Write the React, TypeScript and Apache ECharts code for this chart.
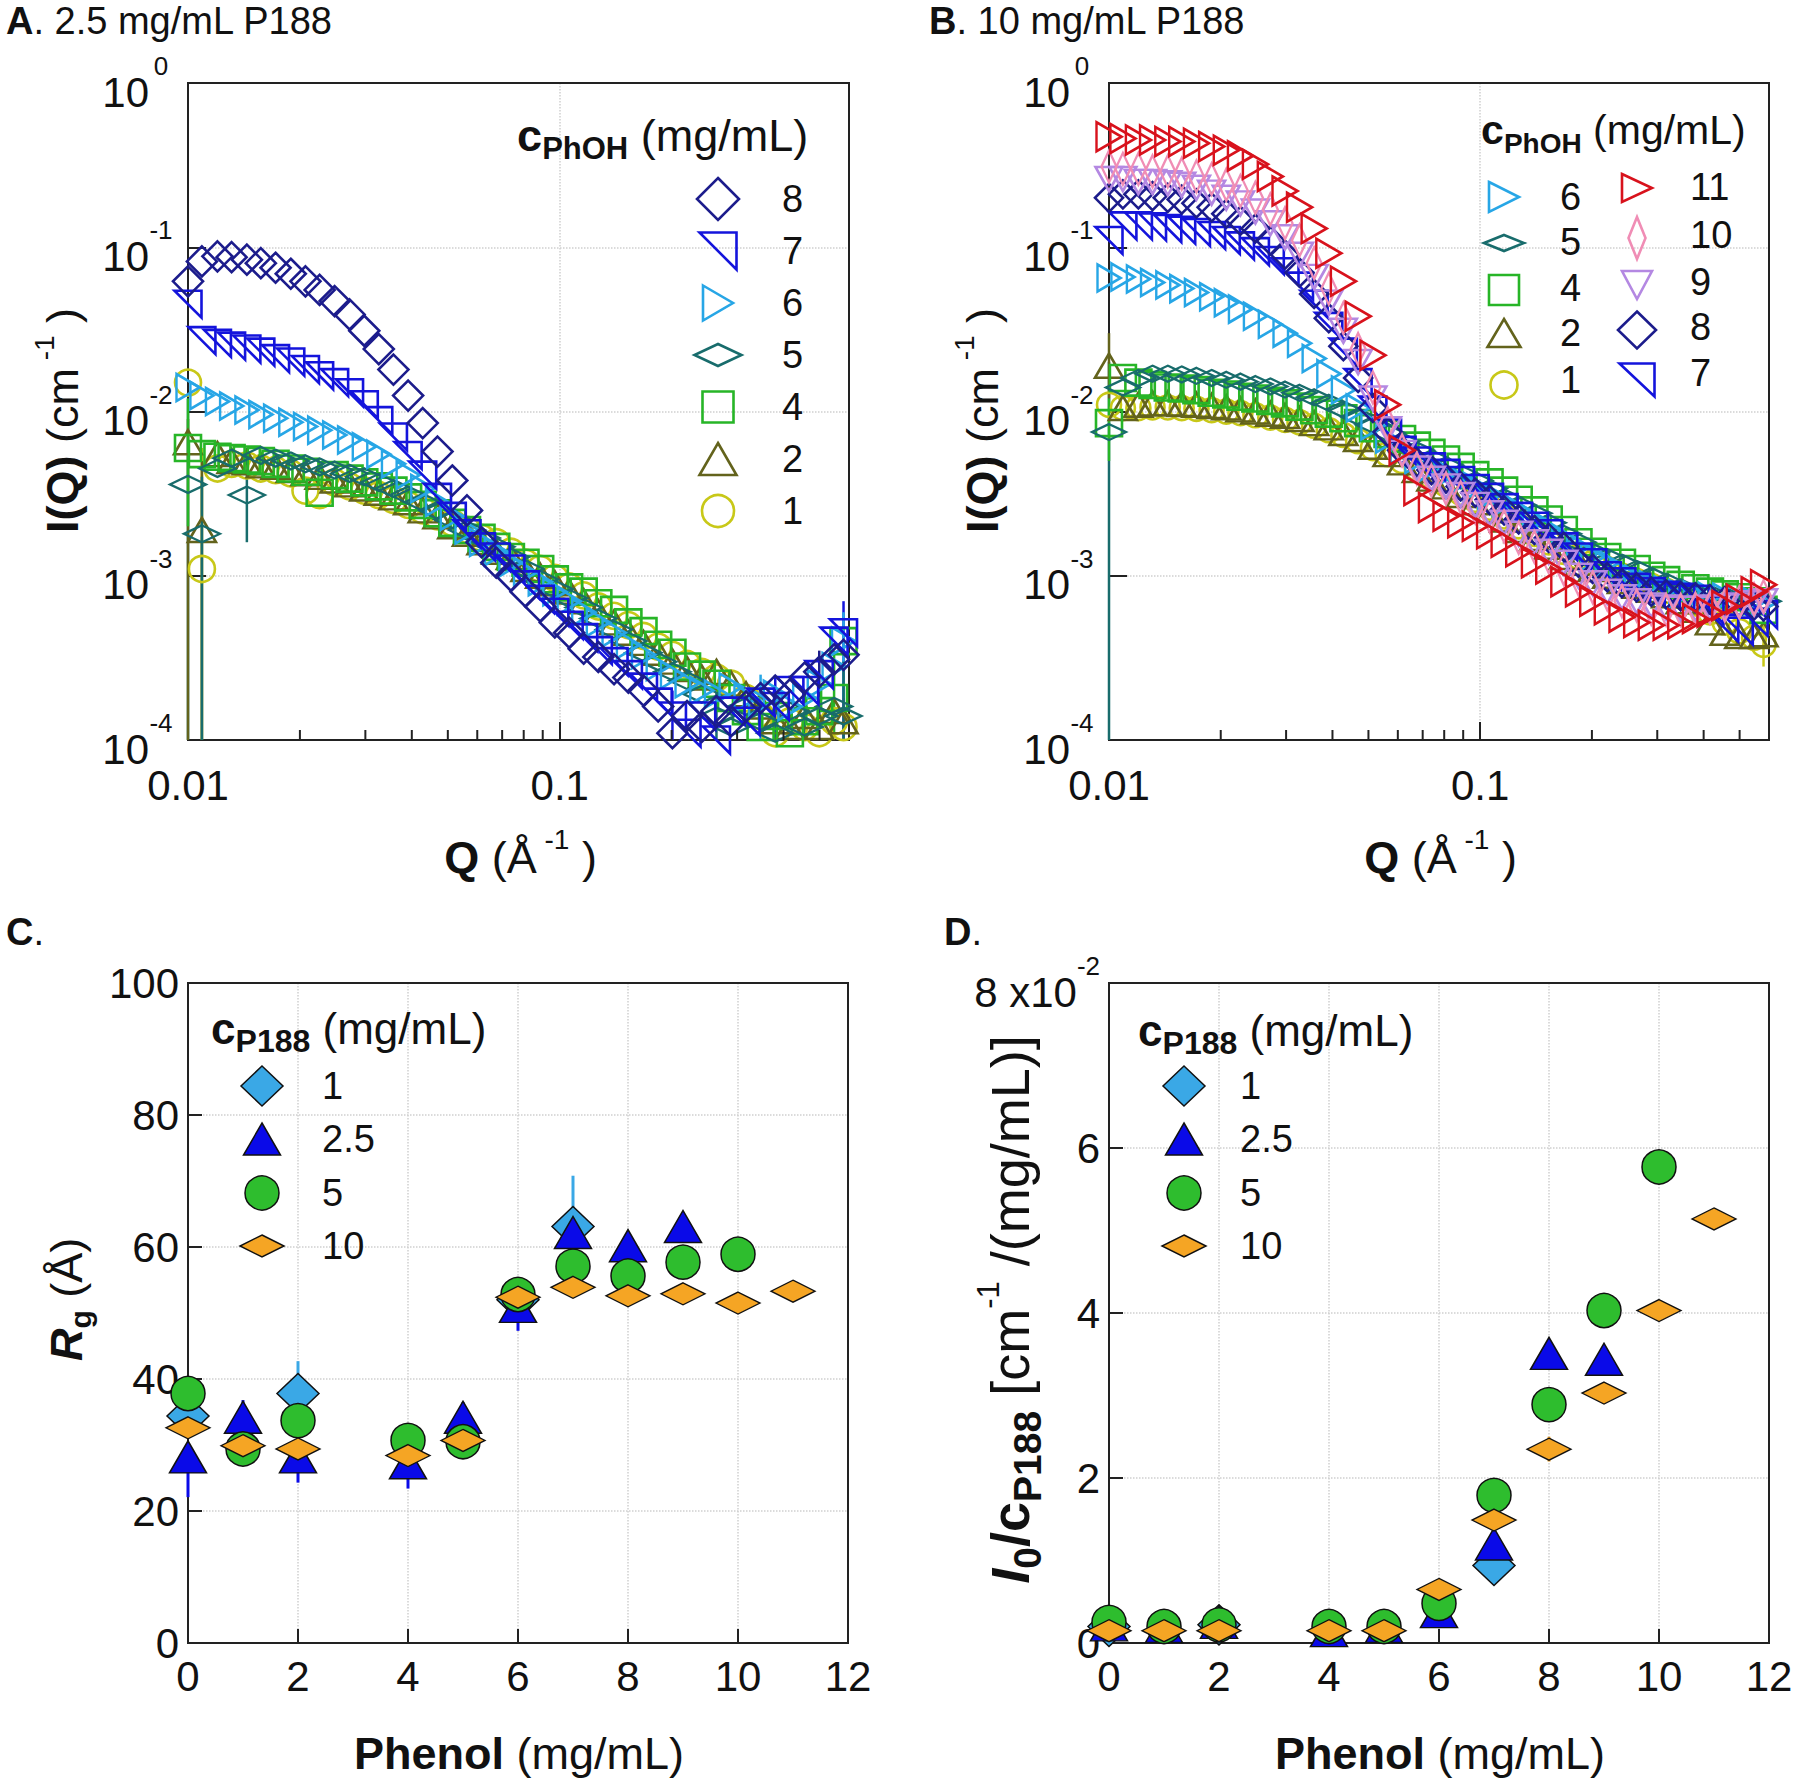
import React, { useEffect, useRef } from 'react';
import * as echarts from 'echarts';

const FONT = '"Liberation Sans", Arial, Helvetica, sans-serif';
const INK = '#111111';
const AXC = '#222222';
const GRIDC = '#cfcfcf';

// ---------------- DATA ----------------
// Shared Q grid of the SANS curves (Å^-1)
const Q = [0.0100, 0.0109, 0.0120, 0.0131, 0.0144, 0.0157, 0.0172, 0.0189, 0.0207, 0.0226,
  0.0248, 0.0272, 0.0298, 0.0326, 0.0357, 0.0391, 0.0428, 0.0469, 0.0514, 0.0563,
  0.0616, 0.0675, 0.0739, 0.0809, 0.0886, 0.0970, 0.106, 0.116, 0.127, 0.140,
  0.153, 0.168, 0.184, 0.201, 0.220, 0.241, 0.264, 0.289, 0.317, 0.347,
  0.380, 0.416, 0.456, 0.499, 0.547, 0.580];
const MINOR_Q = [0.02, 0.03, 0.04, 0.05, 0.06, 0.07, 0.08, 0.09, 0.2, 0.3, 0.4, 0.5];

// Panel A: 2.5 mg/mL P188, I(Q) per phenol concentration
const A_I8 = [0.062, 0.082, 0.088, 0.087, 0.084, 0.080, 0.075, 0.069, 0.062, 0.055,
  0.047, 0.039, 0.031, 0.024, 0.018, 0.0125, 0.0085, 0.0057, 0.0038, 0.0025,
  0.0016, 0.0012, 0.001, 0.0008, 0.00065, 0.00052, 0.00045, 0.00036, 0.00032, 0.00027,
  0.00024, 0.0002, 0.00016, 0.00011, 0.00014, 0.00012, 0.00015, 0.00013, 0.00016, 0.00018,
  0.0002, 0.00019, 0.00024, 0.00026, 0.00031, 0.00033];
const A_I7 = [0.045, 0.027, 0.026, 0.025, 0.024, 0.023, 0.021, 0.020, 0.018, 0.0165,
  0.015, 0.013, 0.011, 0.0088, 0.007, 0.0054, 0.0041, 0.003, 0.0023, 0.0018,
  0.0015, 0.0013, 0.0011, 0.00088, 0.00072, 0.0006, 0.0005, 0.00042, 0.00035, 0.0003,
  0.00025, 0.00021, 0.00017, 0.00014, 0.00011, 0.00014, 0.0001, 0.00015, 0.00013, 0.00017,
  0.00016, 0.0002, 0.0002, 0.00025, 0.0004, 0.00045];
const A_I6 = [0.014, 0.0125, 0.0115, 0.0108, 0.0102, 0.0096, 0.0091, 0.0086, 0.0081, 0.0077,
  0.0072, 0.0067, 0.0061, 0.0055, 0.0048, 0.0041, 0.0034, 0.0028, 0.0023, 0.0019,
  0.0016, 0.0014, 0.0012, 0.00105, 0.00092, 0.0008, 0.0007, 0.0006, 0.00052, 0.00045,
  0.00038, 0.00033, 0.00028, 0.00025, 0.00022, 0.0002, 0.00019, 0.00021, 0.00018, 0.00017,
  0.00019, 0.00016, 0.00018, 0.00022, 0.00028, 0.0004];
const A_I5 = [0.0036, 0.0018, 0.0045, 0.0052, 0.0031, 0.0054, 0.0052, 0.005, 0.0048, 0.0046,
  0.0044, 0.0042, 0.004, 0.0037, 0.0034, 0.0031, 0.0028, 0.0025, 0.0022, 0.0019,
  0.0017, 0.0015, 0.0013, 0.0011, 0.00095, 0.00083, 0.00073, 0.00064, 0.00055, 0.00047,
  0.0004, 0.00034, 0.0003, 0.00026, 0.00023, 0.00019, 0.00014, 0.00012, 0.00016, 0.00013,
  0.00011, 0.00015, 0.00012, 0.00014, 0.00016, 0.00014];
const A_I4 = [0.006, 0.0055, 0.0053, 0.0052, 0.0051, 0.005, 0.0048, 0.0045, 0.0043, 0.0032,
  0.0041, 0.0039, 0.0037, 0.0035, 0.0033, 0.003, 0.0027, 0.0024, 0.0021, 0.0019,
  0.0017, 0.0015, 0.0013, 0.0012, 0.0011, 0.00095, 0.00085, 0.0008, 0.00068, 0.00062,
  0.00052, 0.00046, 0.00038, 0.00034, 0.00028, 0.00025, 0.00022, 0.00018, 0.00015, 0.00012,
  0.00014, 0.00011, 0.00013, 0.00015, 0.00018, 0.0004];
const A_I2 = [0.0065, 0.0019, 0.0055, 0.005, 0.0049, 0.0047, 0.0046, 0.0044, 0.0042, 0.004,
  0.0038, 0.0036, 0.0034, 0.0032, 0.003, 0.0028, 0.0025, 0.0023, 0.002, 0.0018,
  0.0016, 0.0014, 0.0013, 0.0011, 0.001, 0.0009, 0.0008, 0.0007, 0.0006, 0.00052,
  0.00045, 0.00039, 0.00034, 0.0003, 0.00027, 0.00024, 0.00026, 0.00022, 0.00019, 0.00016,
  0.00013, 0.00012, 0.00014, 0.00012, 0.00015, 0.00013];
const A_I1 = [0.015, 0.0011, 0.0045, 0.0048, 0.0047, 0.0045, 0.0044, 0.0042, 0.0033, 0.0031,
  0.0037, 0.0035, 0.0033, 0.0031, 0.0029, 0.0027, 0.0025, 0.0023, 0.0021, 0.0019,
  0.0017, 0.0016, 0.0014, 0.0012, 0.0011, 0.00097, 0.00086, 0.00076, 0.00065, 0.00057,
  0.0005, 0.00043, 0.00037, 0.00033, 0.00029, 0.00026, 0.00024, 0.00022, 0.00018, 0.00014,
  0.00011, 0.00013, 0.00012, 0.00011, 0.00013, 0.00012];

// Panel B: 10 mg/mL P188
const B_I11 = [0.47, 0.46, 0.45, 0.45, 0.44, 0.44, 0.43, 0.41, 0.39, 0.36,
  0.32, 0.27, 0.22, 0.175, 0.13, 0.092, 0.062, 0.038, 0.022, 0.011,
  0.0058, 0.0033, 0.0026, 0.0023, 0.0021, 0.002, 0.0018, 0.0016, 0.0014, 0.0012,
  0.0011, 0.00092, 0.0008, 0.0007, 0.00062, 0.00056, 0.00052, 0.0005, 0.0005, 0.00051,
  0.00055, 0.0006, 0.00066, 0.00072, 0.0008, 0.00088];
const B_I10 = [0.31, 0.30, 0.30, 0.29, 0.29, 0.28, 0.27, 0.26, 0.24, 0.22,
  0.2, 0.17, 0.14, 0.11, 0.08, 0.056, 0.037, 0.024, 0.014, 0.0085,
  0.0058, 0.0045, 0.0038, 0.0034, 0.003, 0.0026, 0.0023, 0.002, 0.0017, 0.0015,
  0.0013, 0.0011, 0.00095, 0.00085, 0.00077, 0.0007, 0.00066, 0.00063, 0.00062, 0.00062,
  0.00063, 0.00064, 0.00066, 0.00069, 0.00072, 0.00075];
const B_I9 = [0.26, 0.26, 0.25, 0.25, 0.245, 0.24, 0.23, 0.215, 0.2, 0.185,
  0.165, 0.14, 0.115, 0.09, 0.066, 0.046, 0.031, 0.02, 0.012, 0.0078,
  0.0056, 0.0045, 0.0039, 0.0035, 0.0031, 0.0027, 0.0024, 0.0021, 0.0018, 0.0016,
  0.0014, 0.0012, 0.001, 0.0009, 0.0008, 0.00074, 0.0007, 0.00066, 0.00064, 0.00063,
  0.00063, 0.00064, 0.00065, 0.00066, 0.00068, 0.0007];
const B_I8 = [0.2, 0.21, 0.21, 0.205, 0.2, 0.195, 0.185, 0.175, 0.16, 0.145,
  0.13, 0.11, 0.09, 0.07, 0.052, 0.037, 0.025, 0.016, 0.0105, 0.0075,
  0.0058, 0.0049, 0.0044, 0.0039, 0.0035, 0.0032, 0.0029, 0.0025, 0.0022, 0.0019,
  0.0017, 0.0015, 0.0012, 0.0011, 0.00098, 0.0009, 0.00085, 0.0008, 0.00077, 0.00075,
  0.00074, 0.00072, 0.0007, 0.00068, 0.00066, 0.00065];
const B_I7 = [0.11, 0.135, 0.135, 0.133, 0.13, 0.127, 0.123, 0.118, 0.11, 0.102,
  0.094, 0.083, 0.071, 0.058, 0.045, 0.033, 0.023, 0.015, 0.0102, 0.0074,
  0.0058, 0.005, 0.0046, 0.0042, 0.0038, 0.0034, 0.003, 0.0026, 0.0023, 0.002,
  0.0018, 0.0015, 0.0013, 0.0012, 0.001, 0.00092, 0.00085, 0.0008, 0.00076, 0.00074,
  0.00072, 0.00062, 0.00048, 0.00046, 0.00052, 0.00058];
const B_I6 = [0.065, 0.066, 0.064, 0.061, 0.059, 0.056, 0.053, 0.05, 0.046, 0.042,
  0.038, 0.034, 0.03, 0.026, 0.021, 0.017, 0.0135, 0.0105, 0.0082, 0.0068,
  0.0058, 0.0051, 0.0046, 0.0042, 0.0038, 0.0035, 0.0031, 0.0028, 0.0025, 0.0022,
  0.0019, 0.0017, 0.0015, 0.0013, 0.0012, 0.00105, 0.00095, 0.00088, 0.00082, 0.00078,
  0.00076, 0.00075, 0.00074, 0.00072, 0.0007, 0.00068];
const B_I5 = [0.0075, 0.014, 0.016, 0.017, 0.017, 0.0168, 0.0165, 0.016, 0.0156, 0.0152,
  0.0147, 0.0142, 0.0136, 0.013, 0.0122, 0.0113, 0.0103, 0.0093, 0.0083, 0.0074,
  0.0066, 0.0058, 0.0052, 0.0047, 0.0042, 0.0038, 0.0034, 0.003, 0.0027, 0.0024,
  0.0021, 0.0018, 0.0016, 0.0014, 0.0013, 0.0012, 0.0011, 0.001, 0.00092, 0.00085,
  0.0008, 0.00078, 0.00076, 0.00074, 0.00072, 0.0007];
const B_I4 = [0.0085, 0.016, 0.015, 0.0145, 0.014, 0.0138, 0.0135, 0.013, 0.0127, 0.0123,
  0.012, 0.0116, 0.0112, 0.0107, 0.0102, 0.0097, 0.0091, 0.0085, 0.0079, 0.0073,
  0.0068, 0.0062, 0.0056, 0.0051, 0.0046, 0.0041, 0.0037, 0.0033, 0.0029, 0.0025,
  0.0022, 0.0019, 0.0016, 0.0014, 0.0013, 0.0012, 0.0011, 0.001, 0.00094, 0.00088,
  0.00084, 0.0008, 0.00077, 0.00074, 0.0007, 0.00062];
const B_I2 = [0.019, 0.0105, 0.011, 0.0112, 0.0112, 0.0111, 0.011, 0.0108, 0.0106, 0.0103,
  0.01, 0.0097, 0.0094, 0.009, 0.0085, 0.008, 0.0074, 0.0068, 0.0061, 0.0055,
  0.0049, 0.0044, 0.0039, 0.0035, 0.0031, 0.0028, 0.0025, 0.0022, 0.0019, 0.0017,
  0.0015, 0.0013, 0.0012, 0.0011, 0.001, 0.00093, 0.00087, 0.00082, 0.00076, 0.0007,
  0.00062, 0.00052, 0.00045, 0.00043, 0.00043, 0.00044];
const B_I1 = [0.011, 0.0105, 0.0105, 0.0106, 0.0106, 0.0105, 0.0104, 0.0102, 0.01, 0.0098,
  0.0095, 0.0092, 0.0089, 0.0086, 0.0082, 0.0077, 0.0072, 0.0066, 0.006, 0.0055,
  0.005, 0.0045, 0.004, 0.0036, 0.0032, 0.0029, 0.0026, 0.0023, 0.002, 0.0018,
  0.0016, 0.0014, 0.0013, 0.0012, 0.0011, 0.001, 0.00093, 0.00087, 0.00081, 0.00075,
  0.00068, 0.0006, 0.00052, 0.00046, 0.00042, 0.00038];

// Error bars [series, Q, low, high]
const A_ERR = [
  ['5', 0.0100, 0.0001, 0.012], ['2', 0.0100, 0.0001, 0.009], ['4', 0.0100, 0.002, 0.012],
  ['1', 0.0109, 0.0001, 0.006], ['2', 0.0109, 0.0001, 0.005], ['5', 0.0109, 0.0001, 0.004],
  ['5', 0.0144, 0.0016, 0.006], ['7', 0.201, 0.0001, 0.0002], ['5', 0.264, 0.0001, 0.00022],
  ['6', 0.347, 0.0001, 0.00025], ['7', 0.380, 0.0001, 0.00024], ['5', 0.456, 0.0001, 0.0002],
  ['8', 0.499, 0.00012, 0.00035], ['4', 0.547, 0.00011, 0.00035], ['7', 0.580, 0.0001, 0.0007],
  ['6', 0.580, 0.00018, 0.0006], ['5', 0.580, 0.0001, 0.0003],
];
const B_ERR = [
  ['5', 0.0100, 0.0001, 0.02], ['2', 0.0100, 0.012, 0.03], ['4', 0.0100, 0.005, 0.012],
  ['1', 0.580, 0.00028, 0.0005],
];

// Panel C: Rg (Å) vs phenol (mg/mL)
const C_X1 = [0, 2, 6, 7];
const C_Y1 = [34.4, 37.8, 52, 63.1];
const C_X25 = [0, 1, 2, 4, 5, 6, 7, 8, 9];
const C_Y25 = [28.2, 34.2, 28.2, 27.3, 34.2, 51, 62.2, 60.2, 63.1];
const C_X5 = [0, 1, 2, 4, 5, 6, 7, 8, 9, 10];
const C_Y5 = [37.8, 29.4, 33.7, 30.7, 30.5, 52.8, 57.1, 55.6, 57.7, 58.9];
const C_X10 = [0, 1, 2, 4, 5, 6, 7, 8, 9, 10, 11];
const C_Y10 = [32.6, 29.9, 29.4, 28.4, 30.7, 52.4, 53.9, 52.6, 52.9, 51.5, 53.3];
const C_ERR = [
  ['1', 2, 37.8, 42.7], ['1', 7, 63.1, 70.8],
  ['2.5', 0, 22.1, 28.2], ['2.5', 1, 34.2, 36.8], ['2.5', 2, 24.3, 28.2], ['2.5', 4, 23.4, 27.3],
  ['2.5', 5, 34.2, 36.5], ['2.5', 6, 47.3, 55], ['2.5', 7, 59, 62.2],
];

// Panel D: I0/cP188 (x10^-2 cm^-1/(mg/mL)) vs phenol (mg/mL)
const D_X1 = [0, 2, 7];
const D_Y1 = [0.2, 0.22, 0.94];
const D_X25 = [0, 1, 2, 4, 5, 6, 7, 8, 9];
const D_Y25 = [0.22, 0.2, 0.25, 0.15, 0.2, 0.38, 1.2, 3.51, 3.44];
const D_X5 = [0, 1, 2, 4, 5, 6, 7, 8, 9, 10];
const D_Y5 = [0.25, 0.2, 0.22, 0.2, 0.2, 0.48, 1.79, 2.89, 4.03, 5.77];
const D_X10 = [0, 1, 2, 4, 5, 6, 7, 8, 9, 10, 11];
const D_Y10 = [0.15, 0.15, 0.15, 0.15, 0.15, 0.65, 1.49, 2.35, 3.03, 4.03, 5.14];
const D_ERR = [['1', 7, 0.75, 0.94], ['10', 8, 2.2, 2.5]];

// ---------------- STYLES ----------------
const SAS_STYLE: any = {
  '1': { color: '#c8c818', kind: 'circle' },
  '2': { color: '#63631c', kind: 'tri' },
  '4': { color: '#27b527', kind: 'rect' },
  '5': { color: '#186c6c', kind: 'diamond' },
  '6': { color: '#27a6e6', kind: 'right' },
  '7': { color: '#1414dc', kind: 'corner' },
  '8': { color: '#1c1c8c', kind: 'diamond' },
  '9': { color: '#b488e2', kind: 'down' },
  '10': { color: '#f08db5', kind: 'diamond' },
  '11': { color: '#d8121c', kind: 'right' },
};
const A_SIZE: any = { '1': [26, 26], '2': [28, 24], '4': [26, 26], '5': [36, 17], '6': [23, 27], '7': [27, 27], '8': [30, 30] };
const B_SIZE: any = { '1': [24, 24], '2': [28, 24], '4': [26, 26], '5': [34, 16], '6': [23, 27], '7': [27, 27], '8': [28, 28], '9': [27, 24], '10': [15, 32], '11': [25, 29] };
const CD_STYLE: any = {
  '1': { color: '#3aa8e6', kind: 'diamond', size: [42, 40] },
  '2.5': { color: '#0a0ae8', kind: 'tri', size: [37, 32] },
  '5': { color: '#2ebd2e', kind: 'circle', size: [34, 34] },
  '10': { color: '#f5a524', kind: 'diamond', size: [44, 22] },
};
const SYMBOL: any = {
  circle: 'circle', tri: 'triangle', rect: 'rect', diamond: 'diamond',
  right: 'path://M0 0L10 5L0 10Z', down: 'path://M0 0L10 0L5 10Z', corner: 'path://M0 0L10 0L10 10Z',
};

const GRIDS = [
  { left: 188, top: 83, width: 661, height: 657 },
  { left: 1109, top: 83, width: 660, height: 657 },
  { left: 188, top: 983, width: 660, height: 660 },
  { left: 1109, top: 983, width: 660, height: 660 },
];

function baseAxis(gridIndex: number) {
  return {
    gridIndex,
    axisLine: { show: true, onZero: false, lineStyle: { color: AXC, width: 2 } },
    axisTick: { show: true, inside: true, length: 18, lineStyle: { color: AXC, width: 2 } },
    splitLine: { show: true, lineStyle: { color: GRIDC, type: 'dotted', width: 1.5 } },
  };
}
// plain frame axes (top / right edges of each box)
function frameAxis(gridIndex: number, kind: string, position: string) {
  const base: any = {
    gridIndex, position,
    axisLine: { show: true, onZero: false, lineStyle: { color: AXC, width: 2 } },
    axisTick: { show: false }, axisLabel: { show: false }, splitLine: { show: false },
  };
  if (kind === 'logx') return { ...base, type: 'log', logBase: 10, min: 0.01, max: 0.6 };
  if (kind === 'logy') return { ...base, type: 'log', logBase: 10, min: 1e-4, max: 1 };
  if (kind === 'linx') return { ...base, type: 'value', min: 0, max: 12 };
  if (kind === 'c') return { ...base, type: 'value', min: 0, max: 100 };
  return { ...base, type: 'value', min: 0, max: 8 };
}

const LOG_RICH = {
  sp: { fontSize: 4, lineHeight: 60 },
  b: { fontSize: 42, fontFamily: FONT, color: INK, verticalAlign: 'bottom' },
  s: { fontSize: 26, fontFamily: FONT, color: INK, verticalAlign: 'top', width: 24, align: 'left' },
};

function logX(gridIndex: number) {
  return {
    ...baseAxis(gridIndex), type: 'log', logBase: 10, min: 0.01, max: 0.6,
    axisLabel: {
      fontSize: 42, fontFamily: FONT, color: INK, margin: 24,
      formatter: (v: number) => {
        const e = Math.log10(v); const r = Math.round(e);
        if (Math.abs(e - r) > 1e-6) return '';
        return String(Number(Math.pow(10, r).toFixed(4)));
      },
    },
  };
}
function logY(gridIndex: number) {
  return {
    ...baseAxis(gridIndex), type: 'log', logBase: 10, min: 1e-4, max: 1,
    axisLabel: {
      fontSize: 42, fontFamily: FONT, color: INK, margin: 15, rich: LOG_RICH,
      formatter: (v: number) => {
        const e = Math.log10(v); const r = Math.round(e);
        if (Math.abs(e - r) > 1e-6) return '';
        return `{sp| }{b|10}{s|${r}}`;
      },
    },
  };
}
function linX(gridIndex: number) {
  return {
    ...baseAxis(gridIndex), type: 'value', min: 0, max: 12, interval: 2,
    axisTick: { show: true, inside: true, length: 14, lineStyle: { color: AXC, width: 2 } },
    axisLabel: { fontSize: 42, fontFamily: FONT, color: INK, margin: 12 },
  };
}
function linY(gridIndex: number, max: number, interval: number, fmt?: any) {
  return {
    ...baseAxis(gridIndex), type: 'value', min: 0, max, interval,
    axisTick: { show: true, inside: true, length: 14, lineStyle: { color: AXC, width: 2 } },
    axisLabel: {
      fontSize: 42, fontFamily: FONT, color: INK, margin: 9,
      rich: {
        sp: { fontSize: 4, lineHeight: 60 },
        b: { fontSize: 42, fontFamily: FONT, color: INK, verticalAlign: 'bottom' },
        s: { fontSize: 26, fontFamily: FONT, color: INK, verticalAlign: 'top' },
      },
      formatter: fmt,
    },
  };
}

function sasSeries(prefix: string, idx: number, key: string, values: number[], size: number[]) {
  const st = SAS_STYLE[key];
  return {
    type: 'scatter', name: `${prefix} ${key}`, xAxisIndex: idx, yAxisIndex: idx,
    data: Q.map((q, i) => [q, values[i]]),
    symbol: SYMBOL[st.kind], symbolSize: size,
    itemStyle: { color: 'rgba(255,255,255,0)', borderColor: st.color, borderWidth: 2.6, opacity: 1 },
    silent: true, z: 3,
  };
}
function cdSeries(prefix: string, idx: number, key: string, xs: number[], ys: number[]) {
  const st = CD_STYLE[key];
  return {
    type: 'scatter', name: `${prefix} ${key}`, xAxisIndex: idx, yAxisIndex: idx,
    data: xs.map((x, i) => [x, ys[i]]),
    symbol: SYMBOL[st.kind], symbolSize: st.size,
    itemStyle: { color: st.color, borderColor: '#111', borderWidth: 1.5, opacity: 1 },
    silent: true, z: 3,
  };
}
function errSeries(idx: number, errs: any[], colorOf: (k: string) => string, lw: number) {
  const keys = errs.map((e) => e[0]);
  return {
    type: 'custom', xAxisIndex: idx, yAxisIndex: idx, silent: true, z: 2,
    data: errs.map((e, i) => [e[1], e[2], e[3], i]),
    renderItem: (params: any, api: any) => {
      const x = api.value(0);
      const lo = api.coord([x, api.value(1)]);
      const hi = api.coord([x, api.value(2)]);
      const c = colorOf(keys[api.value(3)]);
      return { type: 'line', shape: { x1: lo[0], y1: lo[1], x2: hi[0], y2: hi[1] }, style: { stroke: c, lineWidth: lw } };
    },
  };
}
function minorTicks(idx: number) {
  return {
    type: 'custom', xAxisIndex: idx, yAxisIndex: idx, silent: true, z: 4,
    data: MINOR_Q.map((q) => [q, 1e-4]),
    renderItem: (params: any, api: any) => {
      const p = api.coord([api.value(0), 1e-4]);
      return { type: 'line', shape: { x1: p[0], y1: p[1], x2: p[0], y2: p[1] - 10 }, style: { stroke: AXC, lineWidth: 2 } };
    },
  };
}

// ---------------- GRAPHIC (titles, legends) ----------------
function rich(L: number, base: number, sub: number, sup: number) {
  const t = (o: any) => ({ fontFamily: FONT, fill: INK, ...o });
  return {
    sp: { fontSize: 4, lineHeight: L, fontFamily: FONT, fill: INK },
    n: t({ fontSize: base, verticalAlign: 'middle' }),
    b: t({ fontSize: base, fontWeight: 'bold', verticalAlign: 'middle' }),
    bi: t({ fontSize: base, fontWeight: 'bold', fontStyle: 'italic', verticalAlign: 'middle' }),
    sub: t({ fontSize: sub, fontWeight: 'bold', verticalAlign: 'bottom' }),
    sup: t({ fontSize: sup, verticalAlign: 'top' }),
  };
}
function txt(x: number, y: number, text: string, r: any, align = 'left', rot = 0, fs = 42) {
  return {
    type: 'text', x, y, rotation: rot, z: 100, silent: true,
    style: { text, rich: r, fontFamily: FONT, fontSize: fs, fill: INK, align, verticalAlign: 'middle' },
  };
}
function shape(kind: string, cx: number, cy: number, w: number, h: number, style: any) {
  const l = cx - w / 2, r = cx + w / 2, t = cy - h / 2, b = cy + h / 2;
  const common = { z: 100, silent: true, style };
  if (kind === 'circle') return { type: 'circle', shape: { cx, cy, r: w / 2 }, ...common };
  if (kind === 'rect') return { type: 'rect', shape: { x: l, y: t, width: w, height: h }, ...common };
  let pts;
  if (kind === 'diamond') pts = [[cx, t], [r, cy], [cx, b], [l, cy]];
  else if (kind === 'tri') pts = [[cx, t], [r, b], [l, b]];
  else if (kind === 'right') pts = [[l, t], [r, cy], [l, b]];
  else if (kind === 'down') pts = [[l, t], [r, t], [cx, b]];
  else pts = [[l, t], [r, t], [r, b]];
  return { type: 'polygon', shape: { points: pts }, ...common };
}

function buildGraphic() {
  const g: any[] = [];
  const R38 = rich(46, 38, 26, 22);
  const R45 = rich(64, 45, 30, 28);
  const R45s = rich(58, 45, 30, 28);
  // panel labels
  g.push(txt(6, 21, '{b|A}{n|. 2.5 mg/mL P188}', R38));
  g.push(txt(929, 21, '{b|B}{n|. 10 mg/mL P188}', R38));
  g.push(txt(6, 932, '{b|C}{n|.}', R38));
  g.push(txt(944, 932, '{b|D}{n|.}', R38));
  // axis titles
  g.push(txt(520, 857, '{sp| }{b|Q}{n| (Å}{sup| -1}{n| )}', R45, 'center'));
  g.push(txt(1440, 857, '{sp| }{b|Q}{n| (Å}{sup| -1}{n| )}', R45, 'center'));
  g.push(txt(519, 1753, '{b|Phenol}{n| (mg/mL)}', R45, 'center'));
  g.push(txt(1440, 1753, '{b|Phenol}{n| (mg/mL)}', R45, 'center'));
  g.push(txt(62, 421, '{sp| }{b|I(Q)}{n| (cm}{sup| -1}{n| )}', R45, 'center', Math.PI / 2));
  g.push(txt(982, 421, '{sp| }{b|I(Q)}{n| (cm}{sup| -1}{n| )}', R45, 'center', Math.PI / 2));
  g.push(txt(66, 1300, '{sp| }{bi|R}{sub|g}{n| (Å)}', R45s, 'center', Math.PI / 2));
  g.push(txt(1010, 1310, '{sp| }{bi|I}{sub|0}{b|/c}{sub|P188}{n| [cm}{sup|-1}{n| /(mg/mL)]}', rich(74, 54, 39, 31), 'center', Math.PI / 2));

  // legend titles
  g.push(txt(516, 135, '{sp| }{b|c}{sub|PhOH}{n| (mg/mL)}', rich(58, 45, 31, 26)));
  g.push(txt(1480, 130, '{sp| }{b|c}{sub|PhOH}{n| (mg/mL)}', rich(54, 41, 28, 24)));
  g.push(txt(210, 1028, '{sp| }{b|c}{sub|P188}{n| (mg/mL)}', rich(58, 44, 32, 26)));
  g.push(txt(1137, 1030, '{sp| }{b|c}{sub|P188}{n| (mg/mL)}', rich(58, 44, 32, 26)));

  const open = (k: string) => ({ fill: 'none', stroke: SAS_STYLE[k].color, lineWidth: 2.6 });
  // legend A
  const aKeys = ['8', '7', '6', '5', '4', '2', '1'];
  const aRows = [199, 251, 303, 355, 407, 459, 511];
  const aSz: any = { '8': [42, 42], '7': [37, 37], '6': [30, 35], '5': [47, 22], '4': [31, 31], '2': [37, 32], '1': [32, 32] };
  aKeys.forEach((k, i) => {
    g.push(shape(SAS_STYLE[k].kind, 718, aRows[i], aSz[k][0], aSz[k][1], open(k)));
    g.push(txt(782, aRows[i], k, {}, 'left', 0, 38));
  });
  // legend B (two columns)
  const bSz: any = { '6': [30, 30], '5': [40, 16], '4': [30, 30], '2': [33, 28], '1': [27, 27], '11': [30, 28], '10': [17, 42], '9': [30, 28], '8': [38, 37], '7': [35, 33] };
  const bCol1 = ['6', '5', '4', '2', '1'];
  const b1Sym = [197, 243, 290, 333, 385];
  const b1Lab = [197, 242, 288, 333, 380];
  const bCol2 = ['11', '10', '9', '8', '7'];
  const b2Sym = [188, 238, 285, 330, 380];
  const b2Lab = [187, 235, 282, 327, 373];
  bCol1.forEach((k, i) => {
    g.push(shape(SAS_STYLE[k].kind, 1504, b1Sym[i], bSz[k][0], bSz[k][1], open(k)));
    g.push(txt(1560, b1Lab[i], k, {}, 'left', 0, 38));
  });
  bCol2.forEach((k, i) => {
    g.push(shape(SAS_STYLE[k].kind, 1637, b2Sym[i], bSz[k][0], bSz[k][1], open(k)));
    g.push(txt(1690, b2Lab[i], k, {}, 'left', 0, 38));
  });
  // legends C and D
  const cdKeys = ['1', '2.5', '5', '10'];
  const cdRows = [1086, 1139, 1193, 1246];
  const filled = (k: string) => ({ fill: CD_STYLE[k].color, stroke: '#111', lineWidth: 1.5 });
  [[262, 322], [1184, 1240]].forEach(([sx, lx]) => {
    cdKeys.forEach((k, i) => {
      const st = CD_STYLE[k];
      g.push(shape(st.kind, sx, cdRows[i], st.size[0], st.size[1], filled(k)));
      g.push(txt(lx, cdRows[i], k, {}, 'left', 0, 38));
    });
  });
  return g;
}

function buildOption() {
  const aList: [string, number[]][] = [['1', A_I1], ['2', A_I2], ['4', A_I4], ['5', A_I5], ['6', A_I6], ['7', A_I7], ['8', A_I8]];
  const bList: [string, number[]][] = [['1', B_I1], ['2', B_I2], ['4', B_I4], ['5', B_I5], ['6', B_I6], ['7', B_I7], ['8', B_I8], ['9', B_I9], ['10', B_I10], ['11', B_I11]];
  const sasColor = (k: string) => SAS_STYLE[k].color;
  const cdColor = (k: string) => CD_STYLE[k].color;
  const series: any[] = [
    errSeries(0, A_ERR, sasColor, 2.5),
    ...aList.map(([k, v]) => sasSeries('A', 0, k, v, A_SIZE[k])),
    minorTicks(0),
    errSeries(1, B_ERR, sasColor, 2.5),
    ...bList.map(([k, v]) => sasSeries('B', 1, k, v, B_SIZE[k])),
    minorTicks(1),
    errSeries(2, C_ERR, cdColor, 3),
    cdSeries('C', 2, '1', C_X1, C_Y1),
    cdSeries('C', 2, '2.5', C_X25, C_Y25),
    cdSeries('C', 2, '5', C_X5, C_Y5),
    cdSeries('C', 2, '10', C_X10, C_Y10),
    errSeries(3, D_ERR, cdColor, 3),
    cdSeries('D', 3, '1', D_X1, D_Y1),
    cdSeries('D', 3, '2.5', D_X25, D_Y25),
    cdSeries('D', 3, '5', D_X5, D_Y5),
    cdSeries('D', 3, '10', D_X10, D_Y10),
  ];
  return {
    animation: false,
    backgroundColor: '#ffffff',
    textStyle: { fontFamily: FONT },
    grid: GRIDS.map((g) => ({ ...g, show: true, borderColor: AXC, borderWidth: 2, backgroundColor: 'transparent', containLabel: false, outerBoundsMode: 'none' })),
    xAxis: [
      logX(0), logX(1), linX(2), linX(3),
      frameAxis(0, 'logx', 'top'), frameAxis(1, 'logx', 'top'), frameAxis(2, 'linx', 'top'), frameAxis(3, 'linx', 'top'),
    ],
    yAxis: [
      logY(0), logY(1),
      linY(2, 100, 20),
      linY(3, 8, 2, (v: number) => (v === 8 ? '{sp| }{b|8 x10}{s|-2}' : String(v))),
      frameAxis(0, 'logy', 'right'), frameAxis(1, 'logy', 'right'), frameAxis(2, 'c', 'right'), frameAxis(3, 'd', 'right'),
    ],
    series,
    graphic: buildGraphic(),
  };
}

export default function App() {
  const ref = useRef<HTMLDivElement>(null);
  useEffect(() => {
    const chart = echarts.init(ref.current as HTMLDivElement, null, { renderer: 'svg' });
    chart.setOption(buildOption() as any);
    return () => chart.dispose();
  }, []);
  return (
    <div
      ref={ref}
      style={{ position: 'absolute', left: 0, top: 0, width: 1800, height: 1787, background: '#fff' }}
    />
  );
}
